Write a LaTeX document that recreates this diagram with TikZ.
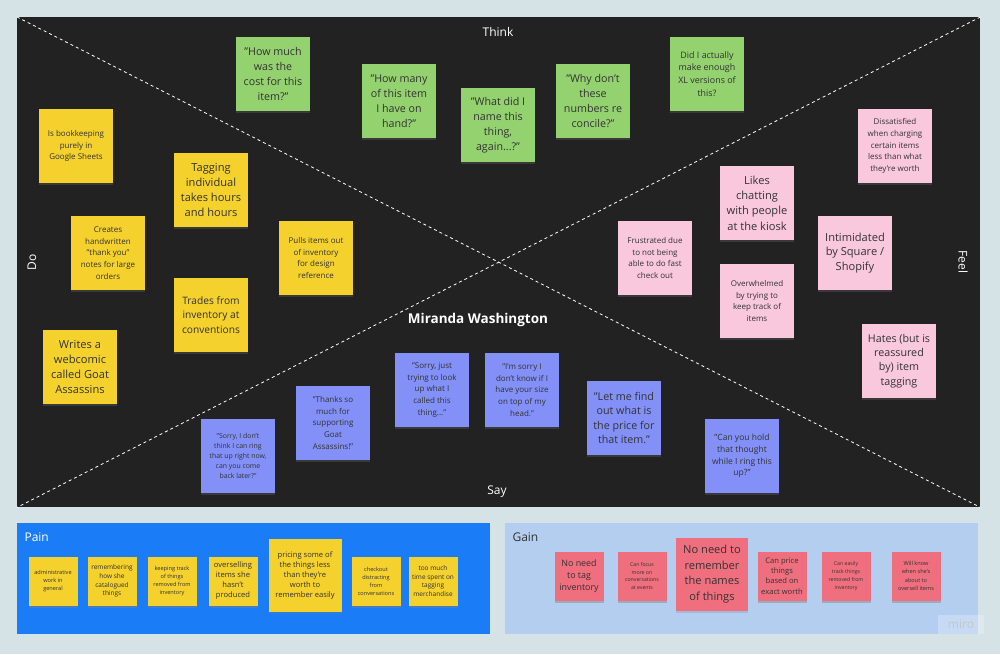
\documentclass[tikz,border=0pt]{standalone}
\usepackage{fontspec}
\setmainfont{Open Sans}
\usetikzlibrary{shadows}
\definecolor{colBg}{HTML}{D5E2E6}
\definecolor{colPanel}{HTML}{222222}
\definecolor{colYellow}{HTML}{F5D12E}
\definecolor{colGreen}{HTML}{93D26F}
\definecolor{colPink}{HTML}{F9C8DC}
\definecolor{colBlue}{HTML}{8290F7}
\definecolor{colPain}{HTML}{1A7DF7}
\definecolor{colGain}{HTML}{B4CEF0}
\definecolor{colRed}{HTML}{EF6F7E}
\definecolor{colText}{HTML}{333333}
\tikzset{
  sticky/.style={minimum width=74pt, minimum height=74pt, inner sep=0pt, align=center, text=colText,
    drop shadow={opacity=0.25, shadow xshift=0pt, shadow yshift=-2pt}},
  smallsticky/.style={sticky, minimum width=49pt, minimum height=49pt},
  ysticky/.style={sticky, fill=colYellow},
  gsticky/.style={sticky, fill=colGreen},
  psticky/.style={sticky, fill=colPink},
  bsticky/.style={sticky, fill=colBlue},
  fsa/.style={font=\fontsize{8}{11.7}\selectfont},
  fsb/.style={font=\fontsize{10.7}{15}\selectfont},
  quadlabel/.style={text=white, font=\fontsize{12}{14}\selectfont},
}
\begin{document}
\begin{tikzpicture}[x=1pt,y=-1pt]
\useasboundingbox[fill=colBg] (0,0) rectangle (1000,654);
% main panel
\node[fill=colPanel, minimum width=963pt, minimum height=490pt, inner sep=0pt, anchor=north west] (panel) at (17,17) {};
\draw[white, dash pattern=on 3pt off 3pt, line width=0.8pt] (panel.north west) -- (panel.south east);
\draw[white, dash pattern=on 3pt off 3pt, line width=0.8pt] (panel.north east) -- (panel.south west);
\node[quadlabel] (think) at (498,32) {Think};
\node[quadlabel] (say) at (497,492) {Say};
\node[quadlabel, rotate=90] (do) at (32,262) {Do};
\node[quadlabel, rotate=-90] (feel) at (963,262) {Feel};
\node[text=white, font=\bfseries\fontsize{13.5}{16}\selectfont] (name) at (478,320) {Miranda Washington};
% Do
\node[ysticky, fsa] (d1) at (76,146) {Is bookkeeping\\purely in\\Google Sheets};
\node[ysticky, font=\fontsize{11.1}{15}\selectfont] (d2) at (211,190) {Tagging\\individual\\takes hours\\and hours};
\node[ysticky, fsa] (d3) at (108,253) {Creates\\handwritten\\"thank you"\\notes for large\\orders};
\node[ysticky, fsa] (d4) at (316,258) {Pulls items out\\of inventory\\for design\\reference};
\node[ysticky, font=\fontsize{10.2}{14.2}\selectfont] (d5) at (211,315) {Trades from\\inventory at\\conventions};
\node[ysticky, font=\fontsize{11.1}{15}\selectfont] (d6) at (80,367) {Writes a\\webcomic\\called Goat\\Assassins};
% Think
\node[gsticky, fsb] (t1) at (273,74) {"How much\\was the\\cost for this\\item?"};
\node[gsticky, fsb] (t2) at (399,101) {"How many\\of this item\\I have on\\hand?"};
\node[gsticky, fsb] (t3) at (498,125) {"What did I\\name this\\thing,\\again...?"};
\node[gsticky, fsb] (t4) at (593,101) {"Why don't\\these\\numbers re\\concile?"};
\node[gsticky, font=\fontsize{8.9}{12.8}\selectfont] (t5) at (707,74) {Did I actually\\make enough\\XL versions of\\this?};
% Feel
\node[psticky, fsa] (f1) at (895,146) {Dissatisfied\\when charging\\certain items\\less than what\\they're worth};
\node[psticky, font=\fontsize{11.1}{15.3}\selectfont] (f2) at (757,203) {Likes\\chatting\\with people\\at the kiosk};
\node[psticky, fsa] (f3) at (655,258) {Frustrated due\\to not being\\able to do fast\\check out};
\node[psticky, font=\fontsize{11.1}{14.8}\selectfont] (f4) at (855,253) {Intimidated\\by Square /\\Shopify};
\node[psticky, fsa] (f5) at (757,301) {Overwhelmed\\by trying to\\keep track of\\items};
\node[psticky, font=\fontsize{10.7}{14.2}\selectfont] (f6) at (899,361) {Hates (but is\\reassured\\by) item\\tagging};
% Say
\node[bsticky, font=\fontsize{6.9}{10}\selectfont] (s1) at (238,456) {"Sorry, I don't\\think I can ring\\that up right now,\\can you come\\back later?"};
\node[bsticky, fsa] (s2) at (333,423) {"Thanks so\\much for\\supporting\\Goat\\Assassins!"};
\node[bsticky, fsa] (s3) at (432,390) {"Sorry, just\\trying to look\\up what I\\called this\\thing..."};
\node[bsticky, fsa] (s4) at (522,390) {"I'm sorry I\\don't know if I\\have your size\\on top of my\\head."};
\node[bsticky, font=\fontsize{10.7}{14.3}\selectfont] (s5) at (624,418) {"Let me find\\out what is\\the price for\\that item."};
\node[bsticky, font=\fontsize{8.5}{11.7}\selectfont] (s6) at (742,456) {"Can you hold\\that thought\\while I ring this\\up?"};
% Pain panel
\node[fill=colPain, minimum width=473pt, minimum height=111pt, inner sep=0pt, anchor=north west] (pain) at (17,523) {};
\node[text=white, anchor=west, font=\fontsize{12}{14}\selectfont] (painlabel) at (21,537) {Pain};
\node[ysticky, smallsticky, font=\fontsize{5.6}{7.7}\selectfont] (p1) at (53,581) {administrative\\work in\\general};
\node[ysticky, smallsticky, font=\fontsize{6.5}{8.7}\selectfont] (p2) at (112,581) {remembering\\how she\\catalogued\\things};
\node[ysticky, smallsticky, font=\fontsize{5.6}{8}\selectfont] (p3) at (172,581) {keeping track\\of  things\\removed from\\inventory};
\node[ysticky, smallsticky, font=\fontsize{7.6}{10}\selectfont] (p4) at (233,581) {overselling\\items she\\hasn't\\produced};
\node[ysticky, minimum width=73pt, minimum height=73pt, font=\fontsize{7.6}{10}\selectfont] (p5) at (305,575) {pricing some of\\the things less\\than they're\\worth to\\remember easily};
\node[ysticky, smallsticky, font=\fontsize{5.6}{8}\selectfont] (p6) at (376,581) {checkout\\distracting\\from\\conversations};
\node[ysticky, smallsticky, font=\fontsize{6.5}{8.7}\selectfont] (p7) at (433,581) {too much\\time spent on\\tagging\\merchandise};
% Gain panel
\node[fill=colGain, minimum width=473pt, minimum height=111pt, inner sep=0pt, anchor=north west] (gain) at (505,523) {};
\node[text=colText, anchor=west, font=\fontsize{12}{14}\selectfont] (gainlabel) at (509,537) {Gain};
\node[sticky, smallsticky, fill=colRed, font=\fontsize{8.9}{12}\selectfont] (g1) at (579,576) {No need\\to tag\\inventory};
\node[sticky, smallsticky, fill=colRed, font=\fontsize{5.2}{7.8}\selectfont] (g2) at (642,576) {Can focus\\more on\\conversations\\at events};
\node[sticky, fill=colRed, minimum width=72pt, minimum height=73pt, font=\fontsize{11.1}{15.5}\selectfont] (g3) at (712,574) {No need to\\remember\\the names\\of things};
\node[sticky, smallsticky, fill=colRed, font=\fontsize{7.6}{10.3}\selectfont] (g4) at (782,576) {Can price\\things\\based on\\exact worth};
\node[sticky, smallsticky, fill=colRed, font=\fontsize{5.2}{8}\selectfont] (g5) at (846,576) {Can easily\\track things\\removed from\\inventory};
\node[sticky, smallsticky, fill=colRed, font=\fontsize{5.6}{8.5}\selectfont] (g6) at (916,576) {Will know\\when she's\\about to\\oversell items};
\node[fill=white, fill opacity=0.25, text opacity=1, text=gray!45, minimum width=46pt, minimum height=19pt, inner sep=0pt, font=\fontsize{12}{14}\selectfont] (miro) at (961,624) {miro};
\end{tikzpicture}
\end{document}
